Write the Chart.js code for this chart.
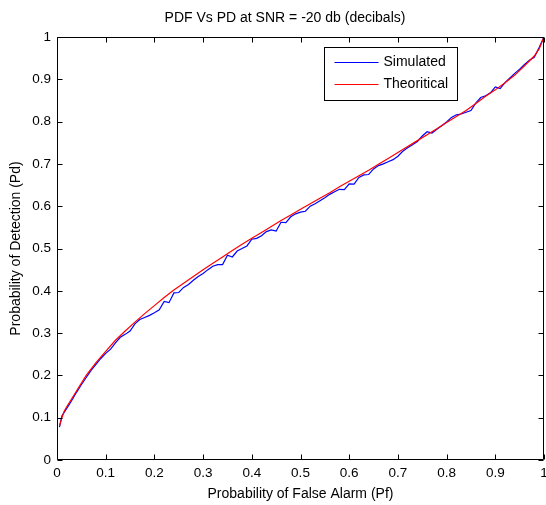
<!DOCTYPE html>
<html><head><meta charset="utf-8">
<script src="https://cdn.jsdelivr.net/npm/chart.js@4/dist/chart.umd.min.js"></script>
<style>html,body{margin:0;padding:0;background:#fff}</style>
</head><body>
<canvas id="c" width="546" height="505"></canvas>
<script>
const titleText = 'PDF Vs PD at SNR = -20 db (decibals)';
const xTitle = 'Probability of False Alarm (Pf)';
const yTitle = 'Probability of Detection (Pd)';
const seriesNames = ['Simulated', 'Theoritical'];
const tickValues = [0, 0.1, 0.2, 0.3, 0.4, 0.5, 0.6, 0.7, 0.8, 0.9, 1];
const tickLabels = ['0', '0.1', '0.2', '0.3', '0.4', '0.5', '0.6', '0.7', '0.8', '0.9', '1'];

const simX = [0.005,0.01,0.02,0.03,0.04,0.05,0.06,0.07,0.08,0.09,
  0.10,0.11,0.12,0.13,0.14,0.15,0.16,0.17,0.18,0.19,
  0.20,0.21,0.22,0.23,0.24,0.25,0.26,0.27,0.28,0.29,
  0.30,0.31,0.32,0.33,0.34,0.35,0.36,0.37,0.38,0.39,
  0.40,0.41,0.42,0.43,0.44,0.45,0.46,0.47,0.48,0.49,
  0.50,0.51,0.52,0.53,0.54,0.55,0.56,0.57,0.58,0.59,
  0.60,0.61,0.62,0.63,0.64,0.65,0.66,0.67,0.68,0.69,
  0.70,0.71,0.72,0.73,0.74,0.75,0.76,0.77,0.78,0.79,
  0.80,0.81,0.82,0.83,0.84,0.85,0.86,0.87,0.88,0.89,
  0.90,0.91,0.92,0.93,0.94,0.95,0.96,0.97,0.98,0.99,1.00];
const simY = [0.078,0.104,0.122,0.140,0.160,0.178,0.195,0.212,0.226,0.240,
  0.252,0.262,0.277,0.290,0.297,0.305,0.322,0.332,0.337,0.342,
  0.348,0.355,0.375,0.372,0.395,0.396,0.408,0.415,0.425,0.434,
  0.441,0.450,0.458,0.462,0.462,0.484,0.480,0.494,0.500,0.506,
  0.522,0.524,0.530,0.540,0.544,0.541,0.562,0.561,0.575,0.582,
  0.586,0.588,0.600,0.606,0.613,0.620,0.628,0.634,0.640,0.639,
  0.653,0.652,0.668,0.674,0.675,0.688,0.696,0.700,0.705,0.710,
  0.718,0.730,0.738,0.745,0.753,0.766,0.776,0.773,0.782,0.790,
  0.799,0.810,0.816,0.818,0.822,0.826,0.844,0.857,0.861,0.868,
  0.882,0.878,0.892,0.903,0.914,0.924,0.935,0.945,0.952,0.975,1.000];

const theoX = [0.005,0.01,0.015,0.02,0.04,0.06,0.08,0.10,0.12,0.14,0.16,0.18,
  0.20,0.22,0.24,0.26,0.28,0.30,0.32,0.34,0.36,0.38,0.40,0.42,0.44,0.46,0.48,
  0.50,0.52,0.54,0.56,0.58,0.60,0.62,0.64,0.66,0.68,0.70,0.72,0.74,0.76,0.78,
  0.80,0.82,0.84,0.86,0.88,0.90,0.92,0.94,0.96,0.98,0.99,1.00];
const theoY = [0.080,0.100,0.116,0.126,0.163,0.200,0.230,0.257,0.283,0.305,0.326,0.346,
  0.365,0.384,0.402,0.418,0.434,0.450,0.465,0.480,0.495,0.510,0.524,0.538,0.552,0.566,0.579,
  0.593,0.606,0.619,0.632,0.646,0.659,0.672,0.685,0.699,0.713,0.727,0.741,0.755,0.769,0.783,
  0.798,0.812,0.826,0.843,0.860,0.875,0.892,0.910,0.932,0.955,0.972,1.000];

const FONT = "'Liberation Sans', Arial, sans-serif";

const boxPlugin = {
  id: 'boxPlugin',
  afterLayout(chart) {
    if (chart.titleBlock) { chart.titleBlock.left = 26; }
  },
  beforeDraw(chart) {
    const ctx = chart.ctx;
    ctx.save();
    ctx.fillStyle = '#fff';
    ctx.fillRect(0, 0, chart.width, chart.height);
    ctx.restore();
  },
  afterDatasetsDraw(chart) {
    const ctx = chart.ctx;
    const a = chart.chartArea;
    const xs = chart.scales.x, ys = chart.scales.y;
    const L = Math.round(a.left) + 0.5, R = Math.round(a.right) - 0.5;
    const T = Math.round(a.top) + 0.5, B = Math.round(a.bottom) - 0.5;
    ctx.save();
    ctx.strokeStyle = '#000';
    ctx.lineWidth = 1;
    ctx.beginPath();
    ctx.rect(L, T, R - L, B - T);
    ctx.stroke();
    const tl = 5;
    ctx.beginPath();
    xs.ticks.forEach(t => {
      const px = Math.round(xs.getPixelForValue(t.value)) + 0.5;
      ctx.moveTo(px, B); ctx.lineTo(px, B - tl);
      ctx.moveTo(px, T); ctx.lineTo(px, T + tl);
    });
    ys.ticks.forEach(t => {
      const py = Math.round(ys.getPixelForValue(t.value)) + 0.5;
      ctx.moveTo(L, py); ctx.lineTo(L + tl, py);
      ctx.moveTo(R, py); ctx.lineTo(R - tl, py);
    });
    ctx.stroke();

    // legend box inside the plot area
    const lx = Math.round(a.right) - 220 + 0.5, ly = Math.round(a.top) + 10 + 0.5;
    const lw = 133, lh = 53;
    ctx.fillStyle = '#fff';
    ctx.fillRect(lx, ly, lw, lh);
    ctx.strokeRect(lx, ly, lw, lh);
    ctx.font = '14px ' + FONT;
    ctx.textBaseline = 'middle';
    ctx.textAlign = 'left';
    chart.data.datasets.forEach((ds, i) => {
      const yy = ly + 14 + i * 22;
      ctx.strokeStyle = ds.borderColor;
      ctx.lineWidth = 1;
      ctx.beginPath();
      ctx.moveTo(lx + 10, Math.round(yy) + 0.5);
      ctx.lineTo(lx + 54, Math.round(yy) + 0.5);
      ctx.stroke();
      ctx.fillStyle = '#000';
      ctx.fillText(ds.label, lx + 59, yy + 1);
    });
    ctx.restore();
  }
};

const simData = simX.map((x, i) => ({x: x, y: simY[i]}));
const theoData = theoX.map((x, i) => ({x: x, y: theoY[i]}));

new Chart(document.getElementById('c'), {
  type: 'line',
  data: {
    datasets: [
      {label: seriesNames[0], data: simData, borderColor: '#0000ff', borderWidth: 1.2,
       pointRadius: 0, tension: 0, fill: false, order: 1},
      {label: seriesNames[1], data: theoData, borderColor: '#ff0000', borderWidth: 1.2,
       pointRadius: 0, tension: 0, fill: false, order: 0}
    ]
  },
  options: {
    responsive: false,
    animation: false,
    events: [],
    layout: {autoPadding: false, padding: {left: 0, right: 2, top: 0, bottom: 0}},
    plugins: {
      legend: {display: false},
      tooltip: {enabled: false},
      title: {display: true, text: titleText, color: '#000',
        font: {family: FONT, size: 14, weight: 'normal', lineHeight: 1.2},
        padding: {top: 10, bottom: 10.2}}
    },
    scales: {
      x: {
        type: 'linear', min: 0, max: 1,
        afterBuildTicks: s => { s.ticks = tickValues.map(v => ({value: v})); },
        afterFit: s => { s.height = 45; s.paddingLeft = 0; s.paddingRight = 0; },
        grid: {display: false, drawTicks: false},
        border: {display: false},
        ticks: {color: '#000', font: {family: FONT, size: 13.5}, padding: 5,
          maxRotation: 0, autoSkip: false,
          callback: (v) => tickLabels[tickValues.findIndex(t => Math.abs(t - v) < 1e-9)]},
        title: {display: true, text: xTitle, color: '#000',
          font: {family: FONT, size: 14, lineHeight: 1.2}, padding: {top: 2, bottom: 2}}
      },
      y: {
        type: 'linear', min: 0, max: 1,
        afterBuildTicks: s => { s.ticks = tickValues.map(v => ({value: v})); },
        afterFit: s => { s.width = 57; s.paddingTop = 0; s.paddingBottom = 0; },
        grid: {display: false, drawTicks: false},
        border: {display: false},
        ticks: {color: '#000', font: {family: FONT, size: 13.5}, padding: 6,
          autoSkip: false,
          callback: (v) => tickLabels[tickValues.findIndex(t => Math.abs(t - v) < 1e-9)]},
        title: {display: true, text: yTitle, color: '#000',
          font: {family: FONT, size: 14, lineHeight: 1.2}, padding: {top: 8, bottom: 2}}
      }
    }
  },
  plugins: [boxPlugin]
});
</script>
</body></html>
